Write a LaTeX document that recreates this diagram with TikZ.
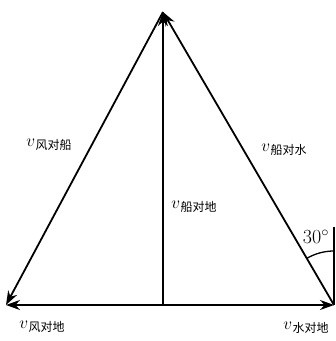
\documentclass[tikz,border=0pt]{standalone}
\usepackage{fontspec}
\newfontfamily\cjk{Noto Sans CJK SC}
\usetikzlibrary{arrows.meta}
\newcommand\myvlab[1]{{\fontsize{17}{17}\selectfont$v$}\kern0.5pt{\cjk\fontsize{12}{12}\selectfont\raisebox{-3.5pt}{#1}}}
\begin{document}
\begin{tikzpicture}[x=1pt,y=1pt,
  vec/.style={line width=1.8pt,-{Stealth[length=14pt,width=10pt]}},
  thin line/.style={line width=1.3pt},
  lbl/.style={inner sep=0pt}]
\useasboundingbox (0,0) rectangle (336,341);
\coordinate (T) at (163,329);
\coordinate (M) at (163,36);
\coordinate (L) at (6,36);
\coordinate (R) at (334,36);
\coordinate (V) at (334,114);
\draw[vec] (M) -- (L);
\draw[vec] (M) -- (R);
\draw[vec] (T) -- (L);
\draw[vec] (M) -- (T);
\draw[vec] (R) -- (T);
\draw[thin line] (R) -- (V);
\draw[thin line] (R) ++(0,54) arc[start angle=90,end angle=120.3,radius=54];
\node[lbl] (a) at (49,196) {\myvlab{风对船}};
\node[lbl] (b) at (284,191) {\myvlab{船对水}};
\node[lbl] (c) at (194,134) {\myvlab{船对地}};
\node[lbl] (d) at (42,14) {\myvlab{风对地}};
\node[lbl] (e) at (306,13) {\myvlab{水对地}};
\node[lbl] (f) at (316,104) {\fontsize{20}{20}\selectfont 30$^\circ$};
\end{tikzpicture}
\end{document}
